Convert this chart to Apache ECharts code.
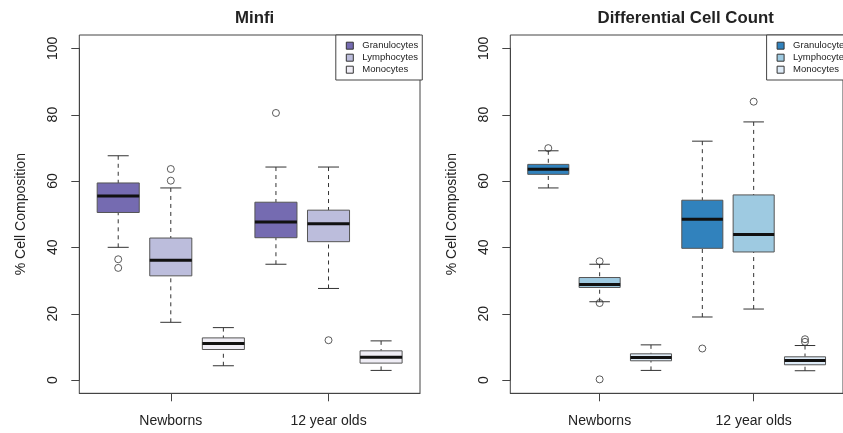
<!DOCTYPE html>
<html>
<head>
<meta charset="utf-8">
<script src="https://cdn.jsdelivr.net/npm/echarts@6/dist/echarts.min.js"></script>
<style>
  html, body { margin: 0; padding: 0; background: #fff; }
  #chart { width: 843px; height: 433px; }
</style>
</head>
<body>
<div id="chart"></div>
<script>
const groups = ['Newborns', '12 year olds'];
const cellTypes = ['Granulocytes', 'Lymphocytes', 'Monocytes'];
const yTicks = [0, 20, 40, 60, 80, 100];

// [lower whisker, Q1, median, Q3, upper whisker], one row per group
const minfiGranulocytes = [[40.0, 50.5, 55.5, 59.4, 67.6], [34.9, 42.9, 47.6, 53.6, 64.2]];
const minfiLymphocytes = [[17.4, 31.4, 36.1, 42.8, 57.9], [27.6, 41.7, 47.1, 51.2, 64.2]];
const minfiMonocytes = [[4.3, 9.2, 11.0, 12.7, 15.8], [2.9, 5.1, 6.9, 8.8, 11.8]];
const minfiGranulocytesOut = [[36.4, 33.8], [80.5]];
const minfiLymphocytesOut = [[60.1, 63.6], [12.0]];
const minfiMonocytesOut = [[], []];

const dccGranulocytes = [[57.9, 62.0, 63.5, 65.0, 69.1], [19.0, 39.7, 48.5, 54.2, 72.0]];
const dccLymphocytes = [[23.6, 27.9, 28.8, 30.9, 34.9], [21.4, 38.6, 43.9, 55.8, 77.8]];
const dccMonocytes = [[2.9, 5.8, 6.8, 7.9, 10.6], [2.8, 4.6, 5.9, 7.0, 10.4]];
const dccGranulocytesOut = [[69.9], [9.5]];
const dccLymphocytesOut = [[35.8, 23.2, 0.2], [83.9]];
const dccMonocytesOut = [[], [12.3, 11.5]];

const purples = ['#756bb1', '#bcbddc', '#efedf5'];
const blues = ['#3182bd', '#9ecae1', '#deebf7'];

const panels = [
  {title: 'Minfi', key: 'minfi', colors: purples,
   stats: [minfiGranulocytes, minfiLymphocytes, minfiMonocytes],
   outs: [minfiGranulocytesOut, minfiLymphocytesOut, minfiMonocytesOut]},
  {title: 'Differential Cell Count', key: 'dcc', colors: blues,
   stats: [dccGranulocytes, dccLymphocytes, dccMonocytes],
   outs: [dccGranulocytesOut, dccLymphocytesOut, dccMonocytesOut]}
];

const font = 'Liberation Sans, Arial, sans-serif';
const ink = '#222';
const frame = '#444';
const gridLeft = [79.3, 510.3];
const gridW = 340.7;
// plot frame spans -4..104 like R; the data grid spans 0..100 inside it
const frameTop = 35, frameH = 358.3;
const dataTop = frameTop + frameH * 4 / 108;
const dataH = frameH * 100 / 108;

function renderBox(params, api) {
  const x = api.value(0);
  const lo = api.coord([x, api.value(1)]);
  const q1 = api.coord([x, api.value(2)]);
  const md = api.coord([x, api.value(3)]);
  const q3 = api.coord([x, api.value(4)]);
  const hi = api.coord([x, api.value(5)]);
  const half = api.size([0.8, 0])[0] / 2;
  const cx = lo[0];
  const line = (x1, y1, x2, y2, extra) => ({
    type: 'line',
    shape: {x1, y1, x2, y2},
    style: Object.assign({stroke: '#333', lineWidth: 1}, extra)
  });
  return {
    type: 'group',
    children: [
      line(cx, hi[1], cx, q3[1], {lineDash: [4, 4]}),
      line(cx, lo[1], cx, q1[1], {lineDash: [4, 4]}),
      line(cx - half / 2, hi[1], cx + half / 2, hi[1]),
      line(cx - half / 2, lo[1], cx + half / 2, lo[1]),
      {type: 'rect',
       shape: {x: cx - half, y: q3[1], width: half * 2, height: q1[1] - q3[1]},
       style: {fill: api.visual('color'), stroke: '#555', lineWidth: 1}},
      line(cx - half, md[1], cx + half, md[1], {lineWidth: 3, stroke: '#111'})
    ]
  };
}

// y ticks pointing out of the left frame edge, placed through the y scale
function renderTick(params, api) {
  const y = Math.round(api.coord([api.value(0), api.value(1)])[1]) + 0.5;
  const x0 = params.coordSys.x;
  return {type: 'line', shape: {x1: x0 - 8, y1: y, x2: x0, y2: y},
          style: {stroke: frame, lineWidth: 1}};
}

const grid = [], xAxis = [], yAxis = [], series = [], legend = [], title = [];

panels.forEach((p, pi) => {
  const gd = pi * 2, gf = pi * 2 + 1;
  // data grid
  grid.push({left: gridLeft[pi], top: dataTop, width: gridW, height: dataH, show: false});
  // frame grid
  grid.push({left: gridLeft[pi], top: frameTop, width: gridW, height: frameH,
             show: true, borderColor: frame, borderWidth: 1, backgroundColor: 'transparent'});
  title.push({text: p.title, left: gridLeft[pi] + gridW / 2, top: 5, textAlign: 'center',
              textStyle: {fontFamily: font, fontSize: 16.8, fontWeight: 'bold', color: ink}});

  xAxis.push({type: 'value', gridIndex: gd, min: 0.26, max: 6.74, show: false});
  xAxis.push({
    type: 'value', gridIndex: gf, min: 0.26, max: 6.74, position: 'bottom',
    axisLine: {show: true, onZero: false, lineStyle: {color: frame}}, splitLine: {show: false},
    axisTick: {show: true, customValues: [2, 5], length: 8, lineStyle: {color: frame}},
    axisLabel: {customValues: [2, 5], margin: 21, fontFamily: font, fontSize: 14, color: ink,
                formatter: v => groups[Math.round((v - 2) / 3)]}
  });
  yAxis.push({
    type: 'value', gridIndex: gd, min: 0, max: 100, interval: 20, position: 'left',
    name: '% Cell Composition', nameLocation: 'middle', nameGap: 51, nameRotate: 90,
    nameTextStyle: {fontFamily: font, fontSize: 14, color: ink},
    axisLine: {show: true, onZero: false, lineStyle: {color: frame}}, splitLine: {show: false},
    axisTick: {show: false},
    axisLabel: {rotate: 90, margin: 19, fontFamily: font, fontSize: 14, color: ink}
  });
  yAxis.push({type: 'value', gridIndex: gf, min: 0, max: 1, show: false});

  series.push({
    type: 'custom', name: p.key + '|yticks', xAxisIndex: gd, yAxisIndex: gd,
    renderItem: renderTick, clip: false, silent: true,
    encode: {x: 0, y: 1},
    data: yTicks.map(v => [1, v])
  });

  const legendData = [];
  cellTypes.forEach((ct, ti) => {
    const name = p.key + '|' + ct;
    legendData.push({name, itemStyle: {color: p.colors[ti], borderColor: '#333', borderWidth: 1}});
    series.push({
      type: 'custom', name, xAxisIndex: gd, yAxisIndex: gd,
      itemStyle: {color: p.colors[ti]},
      renderItem: renderBox,
      encode: {x: 0, y: [1, 2, 3, 4, 5]},
      data: p.stats[ti].map((s, gi) => [gi * 3 + ti + 1].concat(s))
    });
    const pts = [];
    p.outs[ti].forEach((vals, gi) => vals.forEach(v => pts.push([gi * 3 + ti + 1, v])));
    series.push({
      type: 'scatter', name: p.key + '|out|' + ct, xAxisIndex: gd, yAxisIndex: gd,
      symbol: 'circle', symbolSize: 7, z: 5, clip: false,
      itemStyle: {color: 'rgba(0,0,0,0)', borderColor: '#333', borderWidth: 1},
      data: pts
    });
  });
  legend.push({
    data: legendData, orient: 'vertical', left: [335.8, 766.6][pi], top: 35,
    padding: [4.7, 4, 4.3, 10], itemGap: 0, itemWidth: 7, itemHeight: 7, icon: 'rect',
    borderColor: frame, borderWidth: 1, backgroundColor: '#fff', selectedMode: false,
    formatter: n => n.split('|')[1],
    textStyle: {fontFamily: font, fontSize: 9.5, lineHeight: 12, color: ink, padding: [0, 0, 0, 4]}
  });
});

const myChart = echarts.init(document.getElementById('chart'));
const option = {
  animation: false,
  backgroundColor: '#fff',
  title, grid, xAxis, yAxis, legend, series
};
option && myChart.setOption(option);
</script>
</body>
</html>
